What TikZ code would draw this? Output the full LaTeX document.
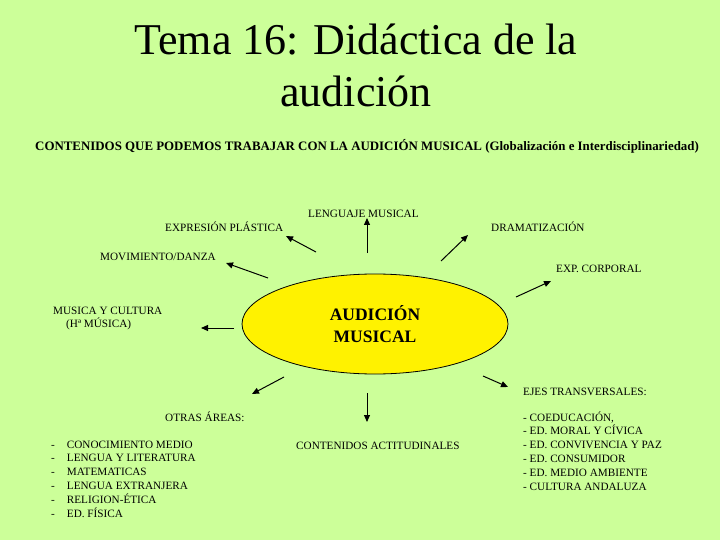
\documentclass[tikz,border=0pt]{standalone}
\usepackage{fontspec}
\setmainfont{Liberation Serif}
\usetikzlibrary{shapes.geometric,arrows.meta}
\definecolor{bgreen}{RGB}{204,255,153}
\tikzset{
  lbl/.style={anchor=base west, inner sep=0pt, font=\fontsize{11.2}{13.8}\selectfont},
  arr/.style={-{Triangle[length=7pt,width=6pt]}, line width=1pt}
}
\begin{document}
\begin{tikzpicture}[x=1pt,y=-1pt]
\fill[bgreen] (0,0) rectangle (720,540);
\useasboundingbox (0,0) rectangle (720,540);
\node[align=center, font=\fontsize{44}{52}\selectfont] (title) at (356,65) {Tema 16: Didáctica de la\\audición};
\node[anchor=base west, inner sep=0pt, font=\fontsize{12.9}{14}\selectfont\bfseries] (head) at (35,151) {CONTENIDOS QUE PODEMOS TRABAJAR CON LA AUDICIÓN MUSICAL (Globalización e Interdisciplinariedad)};
%%%%%%%%%%%%%
\node[draw, ellipse, fill=yellow, line width=0.8pt, minimum width=266pt, minimum height=100pt, align=center, font=\fontsize{17.5}{22}\selectfont\bfseries] (aud) at (375,324) {AUDICIÓN\\MUSICAL};
%%%%%%%%%%%%%
\node[lbl] (leng) at (308,218) {LENGUAJE MUSICAL};
\node[lbl] (expr) at (165,232) {EXPRESIÓN PLÁSTICA};
\node[lbl] (drama) at (491,232) {DRAMATIZACIÓN};
\node[lbl] (movi) at (100,260) {MOVIMIENTO/DANZA};
\node[lbl] (corp) at (556,272) {EXP. CORPORAL};
\node[lbl] (cult) at (53,314) {\begin{tabular}[t]{@{}l@{}}MUSICA Y CULTURA\\\hspace*{13pt}(Hª MÚSICA)\end{tabular}};
\node[lbl] (ejes) at (523,395) {EJES TRANSVERSALES:};
\node[lbl] (otras) at (165,421) {OTRAS ÁREAS:};
\node[lbl] (actit) at (296,449) {CONTENIDOS ACTITUDINALES};
\node[lbl] (areas) at (51,448) {\begin{tabular}[t]{@{}l@{\hspace{12pt}}l@{}}
- & CONOCIMIENTO MEDIO\\ - & LENGUA Y LITERATURA\\ - & MATEMATICAS\\
- & LENGUA EXTRANJERA\\ - & RELIGION-ÉTICA\\ - & ED. FÍSICA\end{tabular}};
\node[lbl] (trans) at (523,421) {\begin{tabular}[t]{@{}l@{}}- COEDUCACIÓN,\\- ED. MORAL Y CÍVICA\\- ED. CONVIVENCIA Y PAZ\\- ED. CONSUMIDOR\\- ED. MEDIO AMBIENTE\\- CULTURA ANDALUZA\end{tabular}};
%%%%%%%%%%%%%
\coordinate (t1) at (367,253); \coordinate (h1) at (367,218);
\coordinate (t2) at (316,252); \coordinate (h2) at (286,236);
\coordinate (t3) at (268,278); \coordinate (h3) at (226,263);
\coordinate (t4) at (234,328); \coordinate (h4) at (201,328);
\coordinate (t5) at (284,377); \coordinate (h5) at (252,394);
\coordinate (t6) at (367,393); \coordinate (h6) at (367,422);
\coordinate (t7) at (441,261); \coordinate (h7) at (468,235);
\coordinate (t8) at (516,297); \coordinate (h8) at (551,281);
\coordinate (t9) at (483,376); \coordinate (h9) at (508,387);
\draw[arr] (t1) -- (h1);
\draw[arr] (t2) -- (h2);
\draw[arr] (t3) -- (h3);
\draw[arr] (t4) -- (h4);
\draw[arr] (t5) -- (h5);
\draw[arr] (t6) -- (h6);
\draw[arr] (t7) -- (h7);
\draw[arr] (t8) -- (h8);
\draw[arr] (t9) -- (h9);
\end{tikzpicture}
\end{document}
